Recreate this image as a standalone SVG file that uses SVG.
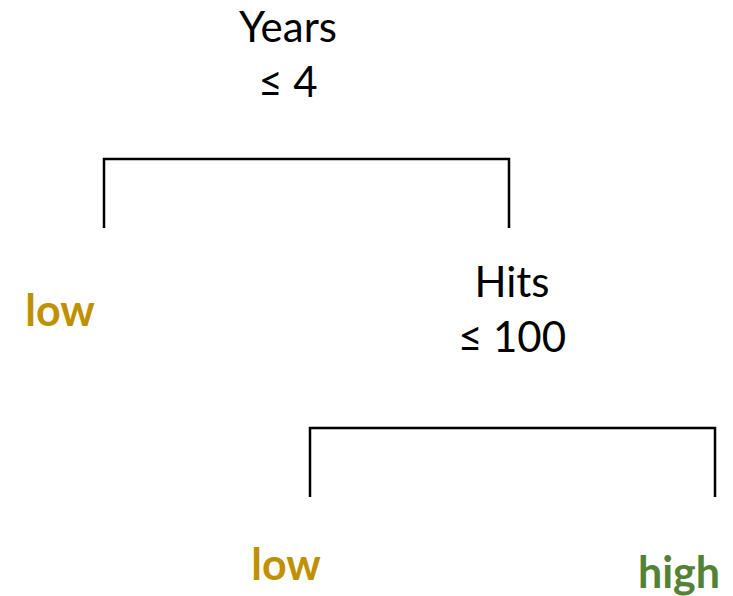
<svg xmlns="http://www.w3.org/2000/svg" width="733" height="596" viewBox="0 0 733 596">
  <style>
    .lbl { font-family: Lato, "Open Sans", "Liberation Sans", sans-serif; font-size: 42px; fill: #000; text-anchor: middle; }
    .leaf { font-family: Lato, "Open Sans", "Liberation Sans", sans-serif; font-size: 43px; font-weight: bold; text-anchor: middle; }
    .low { fill: #BF9000; }
    .high { fill: #548235; }
    .edge { fill: none; stroke: #000; stroke-width: 2.5; }
  </style>
  <rect width="733" height="596" fill="#fff"/>

  <!-- split brackets -->
  <g id="connectors">
    <path class="edge" d="M104 228 V159 H509 V228"/>
    <path class="edge" d="M310 497 V428 H715 V497"/>
  </g>

  <!-- root split -->
  <g id="node-years">
    <text class="lbl" x="288" y="42">Years</text>
    <text class="lbl" x="288" y="97">≤ 4</text>
  </g>

  <!-- right split -->
  <g id="node-hits">
    <text class="lbl" x="512" y="297">Hits</text>
    <text class="lbl" x="512" y="352">≤ 100</text>
  </g>

  <!-- leaves -->
  <g id="leaf-low-1">
    <text class="leaf low" x="60" y="326">low</text>
  </g>
  <g id="leaf-low-2">
    <text class="leaf low" x="286" y="580">low</text>
  </g>
  <g id="leaf-high">
    <text class="leaf high" x="679" y="588">high</text>
  </g>
</svg>
